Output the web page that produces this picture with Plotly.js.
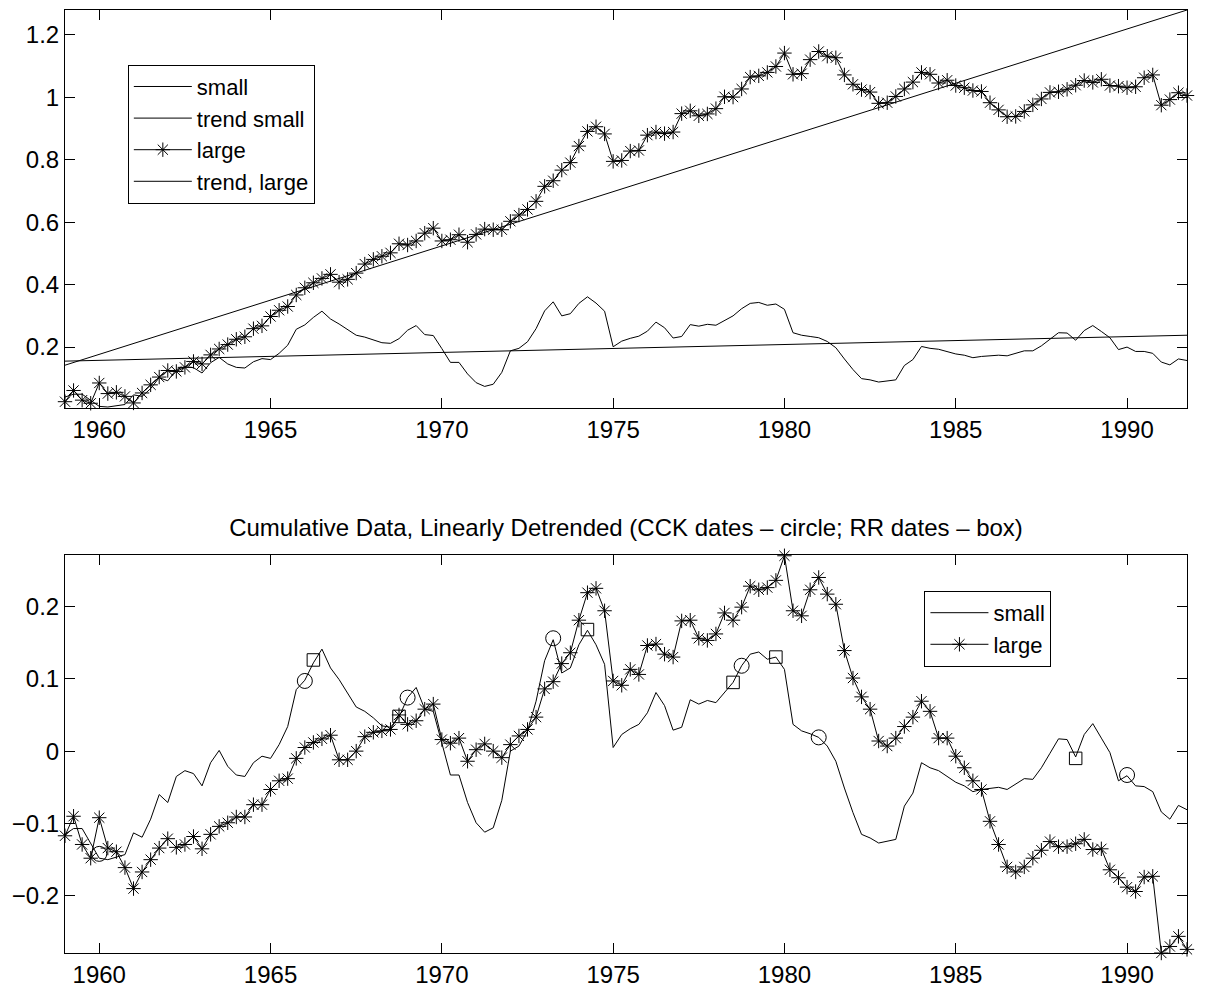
<!DOCTYPE html>
<html>
<head>
<meta charset="utf-8">
<script src="https://cdn.plot.ly/plotly-3.0.1.min.js"></script>
<style>
  body { margin: 0; background: #fff; }
  #plot { width: 1205px; height: 992px; }
</style>
</head>
<body>
<div id="plot"></div>
<script>
// quarterly observations, 1959Q1 .. 1991Q4
const firstYear = 1959;
const nQuarters = 132;
const quarters = Array.from({ length: nQuarters }, (_, i) => firstYear + i / 4);

// top panel: cumulative series
const smallCum = [
  0.040, 0.049, 0.049, 0.030, 0.010, 0.008, 0.012, 0.016, 0.047, 0.042, 0.067, 0.102,
  0.092, 0.128, 0.137, 0.134, 0.117, 0.150, 0.167, 0.146, 0.135, 0.133, 0.153, 0.163,
  0.160, 0.180, 0.206, 0.257, 0.271, 0.295, 0.315, 0.290, 0.274, 0.256, 0.238, 0.232,
  0.224, 0.214, 0.212, 0.227, 0.254, 0.269, 0.240, 0.237, 0.195, 0.151, 0.151, 0.114,
  0.086, 0.074, 0.081, 0.119, 0.188, 0.196, 0.217, 0.259, 0.316, 0.345, 0.300, 0.307,
  0.340, 0.361, 0.341, 0.315, 0.201, 0.219, 0.228, 0.235, 0.251, 0.280, 0.262, 0.229,
  0.234, 0.272, 0.267, 0.273, 0.270, 0.285, 0.300, 0.323, 0.340, 0.343, 0.334, 0.338,
  0.321, 0.246, 0.238, 0.234, 0.230, 0.218, 0.198, 0.162, 0.128, 0.099, 0.095, 0.088,
  0.092, 0.095, 0.141, 0.160, 0.202, 0.196, 0.193, 0.185, 0.178, 0.174, 0.166, 0.170,
  0.172, 0.174, 0.172, 0.180, 0.188, 0.188, 0.204, 0.225, 0.246, 0.245, 0.222, 0.253,
  0.269, 0.250, 0.230, 0.192, 0.200, 0.186, 0.186, 0.180, 0.152, 0.143, 0.162, 0.157
];
const largeCum = [
  0.025, 0.061, 0.030, 0.020, 0.085, 0.051, 0.055, 0.042, 0.021, 0.053, 0.079, 0.104,
  0.125, 0.122, 0.135, 0.154, 0.146, 0.175, 0.194, 0.208, 0.225, 0.233, 0.259, 0.268,
  0.298, 0.318, 0.330, 0.367, 0.390, 0.406, 0.420, 0.433, 0.408, 0.417, 0.437, 0.466,
  0.481, 0.491, 0.502, 0.531, 0.527, 0.540, 0.565, 0.581, 0.540, 0.544, 0.560, 0.536,
  0.561, 0.578, 0.576, 0.576, 0.603, 0.623, 0.641, 0.667, 0.715, 0.733, 0.767, 0.791,
  0.844, 0.891, 0.906, 0.883, 0.795, 0.798, 0.828, 0.830, 0.879, 0.889, 0.884, 0.889,
  0.948, 0.957, 0.941, 0.947, 0.964, 1.002, 1.001, 1.027, 1.065, 1.069, 1.080, 1.099,
  1.142, 1.074, 1.076, 1.121, 1.147, 1.132, 1.127, 1.072, 1.042, 1.025, 1.017, 0.981,
  0.983, 1.003, 1.027, 1.049, 1.080, 1.074, 1.046, 1.055, 1.038, 1.031, 1.022, 1.019,
  0.983, 0.960, 0.938, 0.939, 0.955, 0.976, 0.995, 1.016, 1.018, 1.026, 1.039, 1.054,
  1.048, 1.058, 1.038, 1.036, 1.031, 1.034, 1.063, 1.072, 0.975, 0.993, 1.015, 1.006
];
const trendYears = [1959, 1991.75];
const trendSmall = [0.155, 0.238];
const trendLarge = [0.142, 1.280];

// bottom panel: linearly detrended
const smallDet = [
  -0.115, -0.107, -0.107, -0.127, -0.148, -0.150, -0.147, -0.143, -0.113, -0.119, -0.094, -0.060,
  -0.071, -0.035, -0.027, -0.031, -0.048, -0.016, 0.001, -0.021, -0.033, -0.035, -0.016, -0.007,
  -0.010, 0.009, 0.034, 0.085, 0.098, 0.122, 0.141, 0.115, 0.099, 0.080, 0.061, 0.055,
  0.046, 0.035, 0.033, 0.047, 0.074, 0.088, 0.058, 0.055, 0.012, -0.033, -0.033, -0.071,
  -0.099, -0.112, -0.106, -0.068, 0.000, 0.007, 0.028, 0.069, 0.125, 0.154, 0.108, 0.115,
  0.147, 0.167, 0.147, 0.120, 0.005, 0.023, 0.031, 0.037, 0.053, 0.081, 0.063, 0.029,
  0.033, 0.071, 0.065, 0.070, 0.067, 0.081, 0.095, 0.118, 0.134, 0.137, 0.127, 0.130,
  0.113, 0.037, 0.028, 0.024, 0.019, 0.007, -0.014, -0.051, -0.085, -0.115, -0.120, -0.127,
  -0.124, -0.122, -0.076, -0.058, -0.016, -0.023, -0.027, -0.035, -0.043, -0.048, -0.056, -0.053,
  -0.052, -0.050, -0.053, -0.045, -0.038, -0.039, -0.023, -0.003, 0.017, 0.016, -0.008, 0.023,
  0.038, 0.018, -0.002, -0.041, -0.034, -0.048, -0.049, -0.056, -0.084, -0.094, -0.075, -0.081
];
const largeDet = [
  -0.117, -0.090, -0.129, -0.148, -0.092, -0.134, -0.139, -0.161, -0.190, -0.167, -0.150, -0.134,
  -0.121, -0.133, -0.129, -0.118, -0.135, -0.115, -0.104, -0.099, -0.091, -0.091, -0.074, -0.074,
  -0.053, -0.041, -0.038, -0.010, 0.005, 0.012, 0.017, 0.022, -0.012, -0.012, 0.000, 0.020,
  0.026, 0.028, 0.030, 0.050, 0.037, 0.042, 0.058, 0.065, 0.016, 0.011, 0.018, -0.014,
  0.002, 0.010, 0.000, -0.009, 0.009, 0.021, 0.030, 0.047, 0.086, 0.096, 0.121, 0.136,
  0.181, 0.219, 0.225, 0.194, 0.097, 0.091, 0.113, 0.106, 0.146, 0.148, 0.134, 0.130,
  0.180, 0.181, 0.156, 0.153, 0.162, 0.191, 0.181, 0.199, 0.228, 0.223, 0.226, 0.236,
  0.270, 0.194, 0.187, 0.223, 0.240, 0.217, 0.203, 0.139, 0.101, 0.075, 0.058, 0.014,
  0.007, 0.018, 0.034, 0.047, 0.069, 0.055, 0.018, 0.018, -0.007, -0.023, -0.041, -0.053,
  -0.097, -0.129, -0.160, -0.167, -0.160, -0.148, -0.137, -0.125, -0.132, -0.132, -0.128, -0.122,
  -0.136, -0.135, -0.164, -0.175, -0.188, -0.194, -0.174, -0.173, -0.279, -0.270, -0.256, -0.274
];

// turning-point dates
const cckDates = [1960.0, 1966.0, 1969.0, 1973.25, 1978.75, 1981.0, 1990.0];
const cckValues = [-0.142, 0.097, 0.074, 0.156, 0.118, 0.019, -0.033];
const rrDates = [1966.25, 1968.75, 1974.25, 1978.5, 1979.75, 1988.5];
const rrValues = [0.126, 0.048, 0.168, 0.095, 0.130, -0.010];

const yearTicks = [1960, 1965, 1970, 1975, 1980, 1985, 1990];

const thin = { color: '#000', width: 1 };
const star = { symbol: 'asterisk-open', size: 12, color: '#000', line: { color: '#000', width: 1 } };

const data = [
  { x: quarters, y: smallCum, name: 'small', type: 'scatter', mode: 'lines', line: thin, xaxis: 'x', yaxis: 'y' },
  { x: trendYears, y: trendSmall, name: 'trend small', type: 'scatter', mode: 'lines', line: thin, xaxis: 'x', yaxis: 'y' },
  { x: quarters, y: largeCum, name: 'large', type: 'scatter', mode: 'lines+markers', line: thin, marker: star, cliponaxis: false, xaxis: 'x', yaxis: 'y' },
  { x: trendYears, y: trendLarge, name: 'trend, large', type: 'scatter', mode: 'lines', line: thin, xaxis: 'x', yaxis: 'y' },

  { x: quarters, y: smallDet, name: 'small', type: 'scatter', mode: 'lines', line: thin, xaxis: 'x2', yaxis: 'y2', legend: 'legend2' },
  { x: quarters, y: largeDet, name: 'large', type: 'scatter', mode: 'lines+markers', line: thin, marker: star, cliponaxis: false, xaxis: 'x2', yaxis: 'y2', legend: 'legend2' },
  { x: cckDates, y: cckValues, name: 'CCK', type: 'scatter', mode: 'markers', showlegend: false, cliponaxis: false,
    marker: { symbol: 'circle-open', size: 15, color: '#000', line: { color: '#000', width: 1 } }, xaxis: 'x2', yaxis: 'y2' },
  { x: rrDates, y: rrValues, name: 'RR', type: 'scatter', mode: 'markers', showlegend: false, cliponaxis: false,
    marker: { symbol: 'square-open', size: 12.5, color: '#000', line: { color: '#000', width: 1 } }, xaxis: 'x2', yaxis: 'y2' }
];

const xAxisBase = {
  range: [1959, 1991.75],
  tickvals: yearTicks,
  ticks: 'inside',
  ticklen: 10,
  tickcolor: '#000',
  showline: true,
  linecolor: '#000',
  linewidth: 1,
  mirror: 'ticks',
  showgrid: false,
  zeroline: false,
  ticklabelstandoff: 0
};
const yAxisBase = {
  ticks: 'inside',
  ticklen: 10,
  tickcolor: '#000',
  showline: true,
  linecolor: '#000',
  linewidth: 1,
  mirror: 'ticks',
  showgrid: false,
  zeroline: false,
  ticklabelstandoff: 0
};

const legendBase = {
  xanchor: 'left', yanchor: 'top',
  bordercolor: '#000', borderwidth: 1, bgcolor: '#fff',
  tracegroupgap: 0,
  itemwidth: 58,
  font: { size: 22 }
};

const layout = {
  width: 1205,
  height: 992,
  margin: { l: 65, r: 18, t: 10, b: 39 },
  paper_bgcolor: '#fff',
  plot_bgcolor: '#fff',
  font: { family: '"Liberation Sans", Arial, sans-serif', size: 24, color: '#000' },
  showlegend: true,
  title: {
    text: 'Cumulative Data, Linearly Detrended (CCK dates \u2013 circle; RR dates \u2013 box)',
    xref: 'paper', x: 0.5, xanchor: 'center',
    yref: 'paper', y: 0.451, yanchor: 'middle',
    font: { size: 24 }
  },
  xaxis: Object.assign({}, xAxisBase, { anchor: 'y' }),
  yaxis: Object.assign({}, yAxisBase, { anchor: 'x', domain: [0.578, 1], range: [0.005, 1.28], dtick: 0.2, tick0: 0 }),
  xaxis2: Object.assign({}, xAxisBase, { anchor: 'y2' }),
  yaxis2: Object.assign({}, yAxisBase, { anchor: 'x2', domain: [0, 0.422], range: [-0.279, 0.271], dtick: 0.1, tick0: 0 }),
  legend: Object.assign({}, legendBase, { x: 0.056, y: 0.942 }),
  legend2: Object.assign({}, legendBase, { x: 0.766, y: 0.384 })
};

Plotly.newPlot('plot', data, layout, { staticPlot: true, displayModeBar: false });
</script>
</body>
</html>
